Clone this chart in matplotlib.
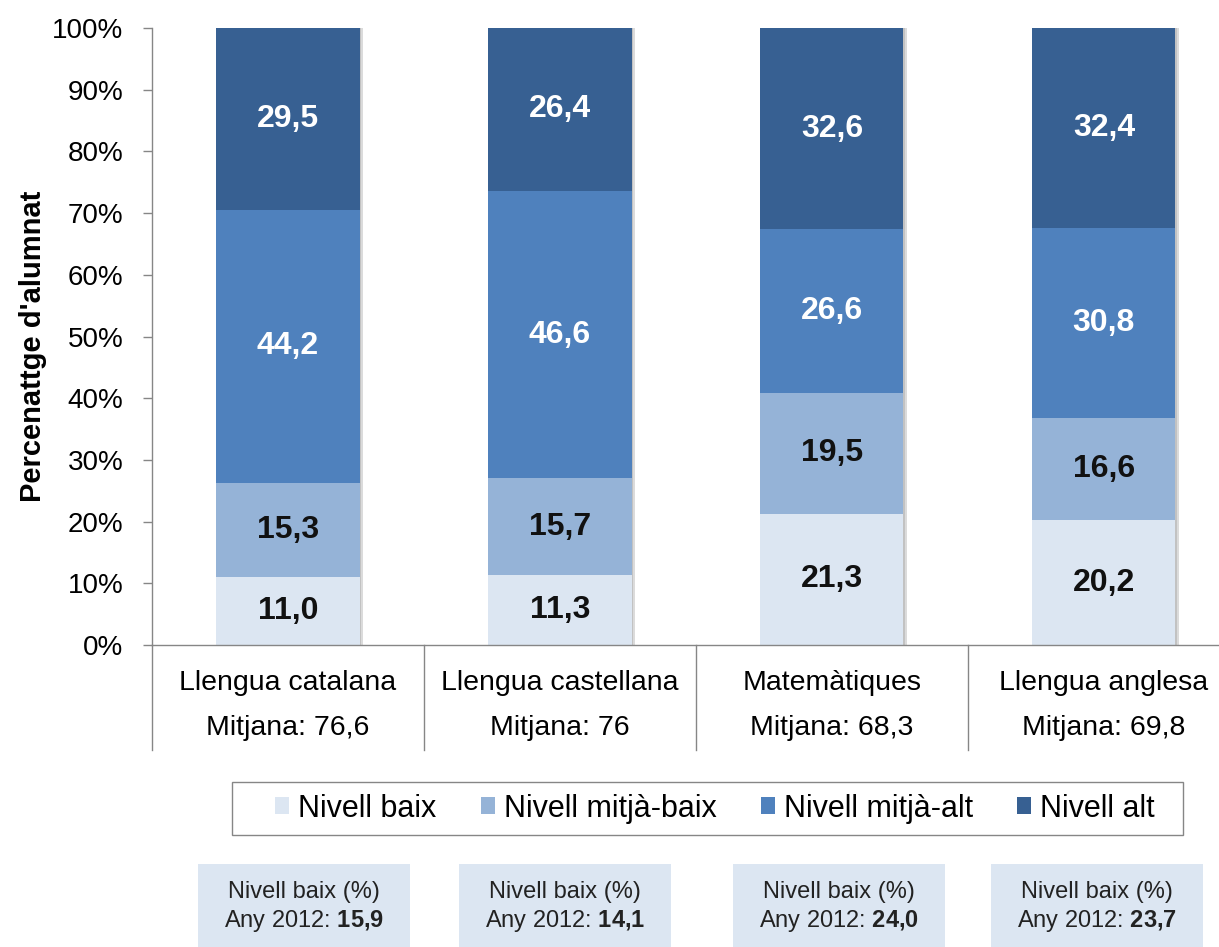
import numpy as np
from matplotlib import patheffects
from matplotlib import pyplot as plt
from matplotlib.patches import Patch, Rectangle
from matplotlib.transforms import blended_transform_factory

plt.rcParams['font.family'] = ['Liberation Sans', 'DejaVu Sans']
plt.rcParams['mathtext.fontset'] = 'custom'
plt.rcParams['mathtext.rm'] = 'Liberation Sans'
plt.rcParams['mathtext.bf'] = 'Liberation Sans:bold'

subjects = ['Llengua catalana', 'Llengua castellana', 'Matemàtiques', 'Llengua anglesa']
means = ['76,6', '76', '68,3', '69,8']
levels = ['Nivell baix', 'Nivell mitjà-baix', 'Nivell mitjà-alt', 'Nivell alt']
baix = [11.0, 11.3, 21.3, 20.2]
mitja_baix = [15.3, 15.7, 19.5, 16.6]
mitja_alt = [44.2, 46.6, 26.6, 30.8]
alt = [29.5, 26.4, 32.6, 32.4]
baix_2012 = ['15,9', '14,1', '24,0', '23,7']

colors = ['#dce6f2', '#95b3d7', '#4f81bd', '#376092']
text_colors = ['#111111', '#111111', 'white', 'white']
grey = '#868686'

W, H = 1219, 947
fig = plt.figure(figsize=(W / 100, H / 100), dpi=100)
ax = fig.add_axes([152 / W, 302 / H, 1067 / W, 617 / H])

x = np.arange(len(subjects))
bottom = np.zeros(len(subjects))
shadow = [
    patheffects.SimplePatchShadow(offset=(2.5, 0), shadow_rgbFace='#8a8a8a', alpha=0.3),
    patheffects.SimplePatchShadow(offset=(1.2, 0), shadow_rgbFace='#8a8a8a', alpha=0.3),
    patheffects.Normal(),
]
for vals, name, color, tcolor in zip([baix, mitja_baix, mitja_alt, alt], levels, colors, text_colors):
    vals = np.array(vals)
    bars = ax.bar(x, vals, width=0.526, bottom=bottom, color=color, zorder=2)
    for b in bars:
        b.set_path_effects(shadow)
    for xi, v, b0 in zip(x, vals, bottom):
        ax.text(xi, b0 + v / 2, f'{v:.1f}'.replace('.', ','), ha='center', va='center',
                fontsize=23, fontweight='bold', color=tcolor, zorder=3)
    bottom = bottom + vals

ax.set_xlim(-0.5, 3.423)
ax.set_ylim(0, 100)
ax.set_yticks(range(0, 101, 10))
ax.set_yticklabels([f'{v}%' for v in range(0, 101, 10)])
ax.set_xticks([])
ax.tick_params(axis='y', length=6.5, width=1, color=grey, pad=14, labelsize=20)
for side in ['top', 'right']:
    ax.spines[side].set_visible(False)
for side in ['left', 'bottom']:
    ax.spines[side].set_color(grey)
    ax.spines[side].set_linewidth(1)
ax.patch.set_alpha(0)

ax.set_ylabel("Percenattge d'alumnat", fontsize=21, fontweight='bold')
ax.yaxis.set_label_coords(-(152 - 47) / 1067, 0.484)

# category table under the axis
trans = blended_transform_factory(ax.transData, ax.transAxes)
for xs in np.arange(-0.5, len(subjects) - 0.5, 1):
    ax.plot([xs, xs], [0, -0.17], transform=trans, color=grey, lw=1, clip_on=False)
for i, (subj, m) in enumerate(zip(subjects, means)):
    ax.text(i, -0.0616, subj, transform=trans, ha='center', va='center', fontsize=20.5)
    ax.text(i, -0.1345, f'Mitjana: {m}', transform=trans, ha='center', va='center', fontsize=20.5)

# legend box
fig.patches.append(Rectangle((232 / W, 1 - 835 / H), 951 / W, 53 / H, transform=fig.transFigure,
                             facecolor='white', edgecolor=grey, lw=1))
handles = [Patch(facecolor=c, edgecolor='none') for c in colors]
fig.legend(handles, levels, loc='center', bbox_to_anchor=(715 / W, 1 - 808.5 / H), ncol=4,
           frameon=False, fontsize=22, handlelength=0.45, handleheight=0.45,
           handletextpad=0.3, columnspacing=1.45)

# boxes with 2012 values
box_left_px = [198, 459, 733, 991]
box_w_px = 212
for left, v in zip(box_left_px, baix_2012):
    fig.patches.append(Rectangle((left / W, 0), box_w_px / W, (H - 864) / H, transform=fig.transFigure,
                                 facecolor='#dce6f2', edgecolor='none'))
    cx = (left + box_w_px / 2) / W
    fig.text(cx, 1 - 898 / H, 'Nivell baix (%)', ha='center', va='baseline', fontsize=17, color='#222222')
    fig.text(cx, 1 - 927 / H, 'Any 2012: $\\mathbf{' + v.replace(',', '{,}') + '}$',
             ha='center', va='baseline', fontsize=17, color='#222222')

fig.savefig('out.png', dpi=100, facecolor='white')
